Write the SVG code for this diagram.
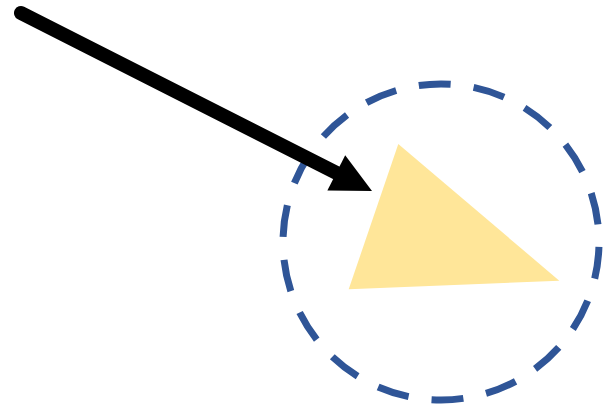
<svg xmlns="http://www.w3.org/2000/svg" width="603" height="409" viewBox="0 0 603 409">
  <style>
    .ring { fill: none; stroke: #2F5597; stroke-width: 7; stroke-dasharray: 32 23.15; stroke-dashoffset: -5; }
    .tri { fill: #FFE699; stroke: none; }
    .conn { fill: none; stroke: #000; stroke-width: 14; stroke-linecap: round; }
    .head { fill: #000; stroke: none; }
  </style>
  <rect width="603" height="409" fill="#fff"/>
  <g id="circle">
    <circle class="ring" cx="441" cy="242" r="158"/>
  </g>
  <g id="triangle">
    <polygon class="tri" points="398.3,144 559.3,280.7 348.7,289.3"/>
  </g>
  <g id="connectors">
    <line class="conn" x1="21" y1="13" x2="338.1" y2="173.8"/>
    <polygon class="head" points="372,191 345.2,155.3 327.4,190.5"/>
  </g>
</svg>
